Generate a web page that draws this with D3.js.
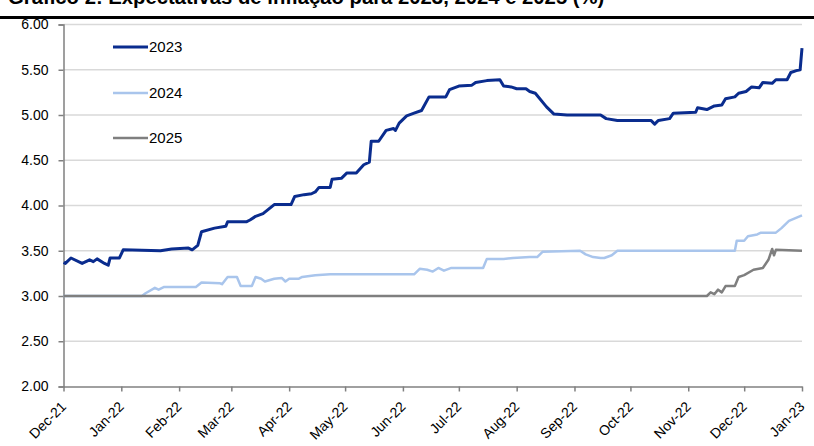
<!DOCTYPE html>
<html>
<head>
<meta charset="utf-8">
<script src="https://cdn.jsdelivr.net/npm/d3@7"></script>
<style>
  html, body { margin: 0; padding: 0; background: #fff; }
  svg { display: block; }
  text { font-family: "Liberation Sans", Arial, sans-serif; }
</style>
</head>
<body>
<script>
// ---- DATA ----
const title = "Gráfico 2: Expectativas de inflação para 2023, 2024 e 2025 (%)";
const seriesNames = ["2023", "2024", "2025"];
const seriesColors = ["#0a2c8e", "#a9c5ec", "#7f7f7f"];
const yTicks = [2.0, 2.5, 3.0, 3.5, 4.0, 4.5, 5.0, 5.5, 6.0];
const monthTicks = ["2021-12-01","2022-01-01","2022-02-01","2022-03-01","2022-04-01","2022-05-01","2022-06-01",
  "2022-07-01","2022-08-01","2022-09-01","2022-10-01","2022-11-01","2022-12-01","2023-01-01"];

const exp2023 = [
  ["2021-12-01",3.37],["2021-12-02",3.36],["2021-12-05",3.42],["2021-12-11",3.36],["2021-12-15",3.40],["2021-12-17",3.38],
  ["2021-12-19",3.41],["2021-12-23",3.36],["2021-12-25",3.34],["2021-12-26",3.42],["2021-12-31",3.42],["2022-01-02",3.51],
  ["2022-01-22",3.50],["2022-01-28",3.52],["2022-02-06",3.53],["2022-02-08",3.51],["2022-02-11",3.56],["2022-02-13",3.71],
  ["2022-02-20",3.75],["2022-02-26",3.77],["2022-02-27",3.82],["2022-03-09",3.82],["2022-03-11",3.84],["2022-03-14",3.88],
  ["2022-03-18",3.91],["2022-03-24",4.01],["2022-04-02",4.01],["2022-04-04",4.10],["2022-04-09",4.12],["2022-04-13",4.13],
  ["2022-04-15",4.15],["2022-04-17",4.20],["2022-04-23",4.20],["2022-04-24",4.29],["2022-04-29",4.30],["2022-05-02",4.36],
  ["2022-05-07",4.36],["2022-05-11",4.45],["2022-05-14",4.48],["2022-05-15",4.71],["2022-05-19",4.71],["2022-05-23",4.83],
  ["2022-05-27",4.85],["2022-05-28",4.83],["2022-05-30",4.91],["2022-06-03",4.99],["2022-06-07",5.02],["2022-06-11",5.05],
  ["2022-06-15",5.20],["2022-06-24",5.20],["2022-06-26",5.28],["2022-07-01",5.32],["2022-07-08",5.33],["2022-07-10",5.36],
  ["2022-07-16",5.38],["2022-07-23",5.39],["2022-07-25",5.32],["2022-07-29",5.31],["2022-08-01",5.29],["2022-08-06",5.29],
  ["2022-08-08",5.26],["2022-08-11",5.24],["2022-08-17",5.09],["2022-08-21",5.01],["2022-08-28",5.00],["2022-09-15",5.00],
  ["2022-09-18",4.96],["2022-09-24",4.94],["2022-10-12",4.94],["2022-10-14",4.90],["2022-10-16",4.94],["2022-10-22",4.96],
  ["2022-10-24",5.02],["2022-11-05",5.03],["2022-11-06",5.08],["2022-11-11",5.06],["2022-11-15",5.10],["2022-11-19",5.11],
  ["2022-11-21",5.18],["2022-11-26",5.20],["2022-11-28",5.24],["2022-12-02",5.26],["2022-12-05",5.31],["2022-12-09",5.30],
  ["2022-12-11",5.36],["2022-12-16",5.35],["2022-12-18",5.39],["2022-12-24",5.39],["2022-12-26",5.47],["2022-12-29",5.49],
  ["2022-12-31",5.50],["2023-01-01",5.74]
];
const exp2024 = [
  ["2021-12-01",3.00],["2022-01-12",3.00],["2022-01-14",3.03],["2022-01-19",3.09],["2022-01-21",3.07],["2022-01-24",3.10],
  ["2022-02-10",3.10],["2022-02-13",3.15],["2022-02-23",3.14],["2022-02-24",3.13],["2022-02-27",3.21],["2022-03-04",3.21],
  ["2022-03-06",3.11],["2022-03-12",3.11],["2022-03-14",3.21],["2022-03-17",3.19],["2022-03-19",3.16],["2022-03-24",3.19],
  ["2022-03-28",3.20],["2022-03-30",3.16],["2022-04-01",3.19],["2022-04-06",3.19],["2022-04-08",3.21],["2022-04-15",3.23],
  ["2022-04-23",3.24],["2022-06-07",3.24],["2022-06-10",3.30],["2022-06-14",3.29],["2022-06-17",3.27],["2022-06-20",3.31],
  ["2022-06-23",3.28],["2022-06-27",3.31],["2022-07-14",3.31],["2022-07-16",3.41],["2022-07-25",3.41],["2022-07-30",3.42],
  ["2022-08-08",3.43],["2022-08-12",3.43],["2022-08-15",3.49],["2022-09-04",3.50],["2022-09-07",3.46],["2022-09-11",3.43],
  ["2022-09-15",3.42],["2022-09-17",3.42],["2022-09-21",3.45],["2022-09-24",3.50],["2022-11-26",3.50],["2022-11-27",3.61],
  ["2022-12-01",3.61],["2022-12-03",3.66],["2022-12-08",3.68],["2022-12-10",3.70],["2022-12-18",3.70],["2022-12-21",3.75],
  ["2022-12-25",3.83],["2023-01-01",3.89]
];
const exp2025 = [
  ["2021-12-01",3.00],["2022-11-11",3.00],["2022-11-13",3.04],["2022-11-15",3.02],["2022-11-17",3.07],["2022-11-19",3.04],
  ["2022-11-21",3.11],["2022-11-26",3.11],["2022-11-28",3.21],["2022-12-01",3.23],["2022-12-06",3.29],["2022-12-11",3.31],
  ["2022-12-14",3.40],["2022-12-16",3.52],["2022-12-17",3.45],["2022-12-18",3.51],["2023-01-01",3.50]
];
const allSeries = [exp2023, exp2024, exp2025];

// ---- CHART ----
const W = 814, H = 446;
const parse = d3.utcParse("%Y-%m-%d");
const fmt = d3.utcFormat("%b-%y");
const svg = d3.select("body").append("svg").attr("width", W).attr("height", H);

const x = d3.scaleUtc().domain([parse(monthTicks[0]), parse(monthTicks[monthTicks.length - 1])]).range([63.5, 802]);
const y = d3.scaleLinear().domain([2, 6]).range([386.5, 24.5]);

// title (partly cut at top, as in the reference) + rule
svg.append("text").attr("x", 8).attr("y", 4)
  .attr("font-size", 20.3).attr("font-weight", "bold").attr("fill", "#000").text(title);
svg.append("line").attr("x1", 0).attr("x2", W).attr("y1", 17.5).attr("y2", 17.5)
  .attr("stroke", "#000").attr("stroke-width", 3);

// gridlines
svg.append("g").selectAll("line").data(yTicks.filter(d => d > 2)).join("line")
  .attr("x1", x.range()[0]).attr("x2", x.range()[1])
  .attr("y1", d => y(d)).attr("y2", d => y(d))
  .attr("stroke", "#d9d9d9").attr("stroke-width", 1.5);

// y axis
const yAxis = svg.append("g").attr("transform", `translate(${x.range()[0]},0)`)
  .call(d3.axisLeft(y).tickValues(yTicks).tickFormat(d3.format(".2f")).tickSize(5).tickPadding(10));
yAxis.select(".domain").attr("stroke", "#808080").attr("stroke-width", 1.5);
yAxis.selectAll(".tick line").attr("stroke", "#808080").attr("stroke-width", 1.5);
yAxis.selectAll("text").attr("font-size", 14).attr("fill", "#000")
  .attr("font-family", "'Liberation Sans', Arial, sans-serif");

// x axis
const xAxis = svg.append("g").attr("transform", `translate(0,${y(2)})`)
  .call(d3.axisBottom(x).tickValues(monthTicks.map(parse)).tickFormat(fmt).tickSize(5).tickSizeOuter(0));
xAxis.select(".domain").attr("stroke", "#808080").attr("stroke-width", 1.5);
xAxis.selectAll(".tick line").attr("stroke", "#808080").attr("stroke-width", 1.5);
xAxis.selectAll("text")
  .attr("font-size", 14).attr("fill", "#000")
  .attr("font-family", "'Liberation Sans', Arial, sans-serif")
  .attr("text-anchor", "end")
  .attr("y", 0).attr("dy", 0)
  .attr("transform", "translate(3,21) rotate(-45)");

// lines
const line = d3.line().x(d => x(parse(d[0]))).y(d => y(d[1]));
const widths = [3, 2.5, 2.5];
allSeries.forEach((s, i) => {
  svg.append("path").datum(s).attr("d", line)
    .attr("fill", "none").attr("stroke", seriesColors[i])
    .attr("stroke-width", widths[i]).attr("stroke-linejoin", "round");
});

// legend
const legY = [47, 93, 138];
seriesNames.forEach((n, i) => {
  svg.append("line").attr("x1", 113).attr("x2", 148).attr("y1", legY[i]).attr("y2", legY[i])
    .attr("stroke", seriesColors[i]).attr("stroke-width", widths[i]);
  svg.append("text").attr("x", 149).attr("y", legY[i] + 5)
    .attr("font-size", 15).attr("fill", "#000").text(n);
});
</script>
</body>
</html>
